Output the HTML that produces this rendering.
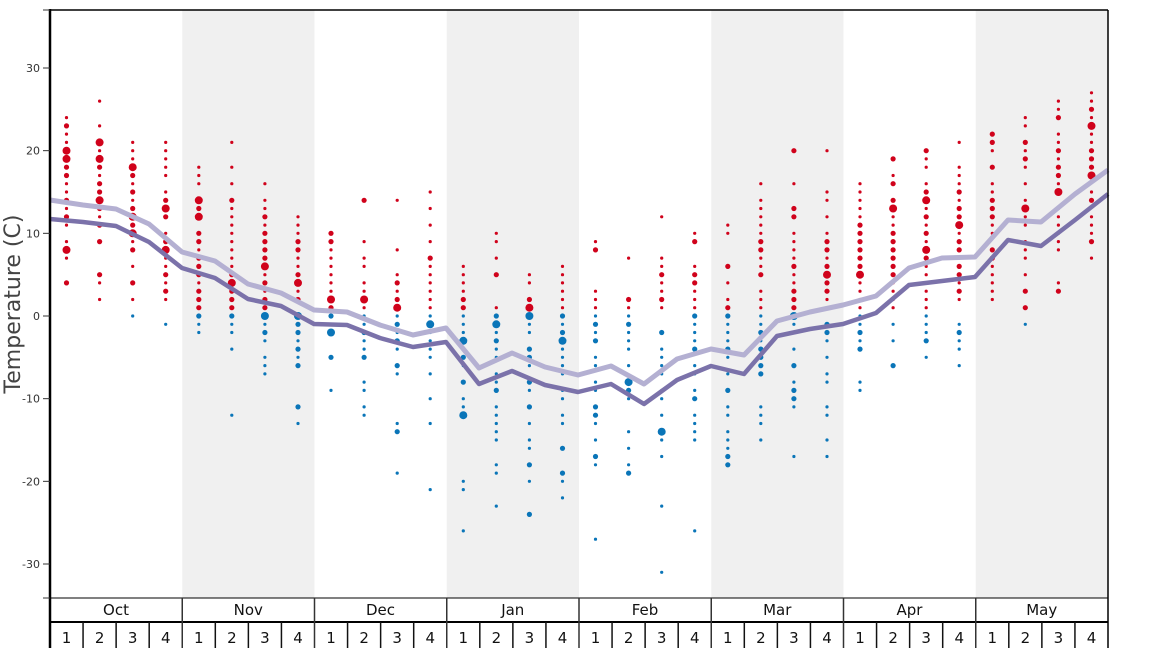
<!DOCTYPE html>
<html><head><meta charset="utf-8"><style>
html,body{margin:0;padding:0;background:#fff;width:1168px;height:648px;overflow:hidden}
text{font-family:"DejaVu Sans","Liberation Sans",sans-serif}
</style></head><body>
<svg id="s" width="1168" height="648" xmlns="http://www.w3.org/2000/svg">
<rect x="182.25" y="10" width="132.25" height="588" fill="#f0f0f0"/>
<rect x="446.75" y="10" width="132.25" height="588" fill="#f0f0f0"/>
<rect x="711.25" y="10" width="132.25" height="588" fill="#f0f0f0"/>
<rect x="975.75" y="10" width="132.25" height="588" fill="#f0f0f0"/>
<g id="dots"></g>
<polyline fill="none" stroke="#b4b0d2" stroke-width="5" stroke-linejoin="round" points="50,200 83,205 116,209 149,224 182,252 215,261 248,284 281,293 314,310 347,312 380,325 413,335 446,328 479,368 512,353 545,367 578,375 611,366 644,384 677,359 711,349 744,355 777,321 810,312 843,305 876,296 909,268 942,258 975,257 1008,220 1041,222 1075,194 1108,170"/>
<polyline fill="none" stroke="#7b72aa" stroke-width="4.5" stroke-linejoin="round" points="50,219 83,222 116,226 149,242 182,268 215,278 248,299 281,306 314,324 347,325 380,338 413,347 446,342 479,384 512,371 545,385 578,392 611,384 644,404 677,380 711,366 744,374 777,336 810,329 843,324 876,313 909,285 942,281 975,277 1008,240 1041,246 1075,220 1108,194"/>
<g stroke="#000" fill="none">
<line x1="50" y1="10" x2="1108" y2="10" stroke-width="1.5"/>
<line x1="1108" y1="10" x2="1108" y2="648" stroke-width="1.5"/>
<line x1="50" y1="9" x2="50" y2="648" stroke-width="2.5"/>
<line x1="50" y1="598" x2="1108" y2="598" stroke-width="1"/>
<line x1="50" y1="622" x2="1108" y2="622" stroke-width="2"/>
</g>
<g id="ax" font-size="11" fill="#333" text-anchor="end"></g>
<g id="mo" font-size="15" fill="#111" text-anchor="middle"></g>
<text transform="translate(20,304) rotate(-90)" font-size="22" fill="#444" text-anchor="middle">Temperature (C)</text>
</svg>
<script>
var NS="http://www.w3.org/2000/svg";
function el(p,t,a,txt){var e=document.createElementNS(NS,t);for(var k in a)e.setAttribute(k,a[k]);if(txt!==undefined)e.textContent=txt;p.appendChild(e);return e;}
var D=["24s,23m,22s,21s,20l,19l,18m,17m,16s,15s,14m,13s,12m,11s,9s,8l,7s,4m",
"26s,23s,21l,20s,19l,18m,17s,16m,15m,14l,13m,12s,11m,9m,5m,4s,2s",
"21s,20s,19s,18l,17m,16s,15m,14s,13m,12l,11m,10l,9s,8m,6s,4m,2s,0s",
"21s,20s,19s,18s,17s,15s,14m,13l,12m,10s,9m,8l,7s,6s,5m,4s,3m,2s,-1s",
"18s,17s,16s,14l,13m,12l,10m,9m,8s,7m,6m,5m,4s,3m,2m,1m,0m,-1s,-2s",
"21s,18s,16s,14m,13s,12s,11s,10s,9s,8s,7s,6s,5m,4l,3m,2m,1m,0m,-1s,-2s,-4s,-12s",
"16s,14s,13s,12m,11s,10m,9m,8m,7m,6l,5s,4m,3s,2m,1m,0l,-1s,-2m,-3s,-5s,-6s,-7s",
"12s,11s,10s,9m,8m,7s,6s,5m,4l,3s,2m,0l,-1m,-2m,-3s,-4m,-5s,-6m,-11m,-13s",
"10m,9m,8s,7s,6s,5s,4s,3s,2l,1m,0m,-2l,-5m,-9s",
"14m,9s,7s,6s,4s,3s,2l,1s,0s,-1s,-2m,-3s,-4s,-5m,-8s,-9s,-11s,-12s",
"14s,8s,5s,4m,3s,2m,1l,0s,-1m,-2s,-3m,-4s,-6m,-7s,-13s,-14m,-19s",
"15s,13s,11s,9s,7m,6s,5s,4s,3s,2s,1s,0s,-1l,-2s,-3s,-4s,-5s,-7s,-10s,-13s,-21s",
"6s,5s,4s,3s,2m,1m,0s,-1s,-2s,-3l,-4s,-5m,-6s,-8m,-10s,-11s,-12l,-20s,-21s,-26s",
"10s,9s,7s,5m,1s,0m,-1l,-2s,-3m,-4s,-5s,-7s,-8s,-9m,-11s,-12s,-13s,-14s,-15s,-18s,-19s,-23s",
"5s,4s,2m,1l,0l,-1s,-2s,-4m,-5m,-6s,-8m,-9s,-11m,-13s,-15s,-16s,-18m,-20s,-24m",
"6s,5s,4s,3s,2s,1s,0m,-1s,-2m,-3l,-4s,-5s,-6s,-7s,-9s,-10s,-12s,-13s,-16m,-19m,-20s,-22s",
"9s,8m,3s,2s,1s,0s,-1m,-2s,-3m,-5s,-6s,-8s,-9s,-11m,-12m,-13s,-15s,-17m,-18s,-27s",
"7s,2m,1s,0s,-1m,-2s,-3s,-4s,-6s,-8l,-9m,-10s,-14s,-16s,-18s,-19m",
"12s,7s,6s,5m,4s,3s,2m,1s,-2m,-4s,-5s,-6s,-7s,-9s,-10s,-12s,-14l,-15s,-17s,-23s,-31s",
"10s,9m,6s,5m,4m,3s,2s,1s,0m,-1s,-2s,-3s,-4m,-6s,-7s,-9s,-10m,-12s,-13s,-14s,-15s,-26s",
"11s,10s,6m,4s,2s,1m,0m,-1s,-2s,-3s,-4m,-5s,-7s,-9m,-11s,-12s,-14s,-15s,-16s,-17m,-18m",
"16s,14s,13s,12s,11s,10s,9m,8m,7s,6s,5m,3s,2s,1s,0s,-1s,-2m,-3s,-4m,-5m,-6m,-7m,-11s,-12s,-13s,-15s",
"20m,16s,13m,12m,10s,9s,8s,7s,6m,5s,4s,3m,2m,1m,0l,-1s,-2s,-4s,-6m,-8s,-9m,-10m,-11s,-17s",
"20s,15s,14s,12s,10s,9m,8m,7s,6m,5l,4m,3m,2s,1s,-1m,-2m,-3s,-5s,-7s,-8s,-11s,-12s,-15s,-17s",
"16s,15s,14s,13s,12s,11m,10m,9m,8m,7m,6m,5l,4s,3s,2s,1s,0s,-1s,-2m,-3s,-4m,-8s,-9s",
"19m,17s,16m,14m,13l,12s,11s,10m,9m,8m,7m,6m,5m,4s,3s,2s,1s,-1s,-3s,-6m",
"20m,19s,18s,16s,15m,14l,13s,12m,11s,10m,9s,8l,7m,6s,5s,4s,3s,2s,1s,0s,-1s,-2s,-3m,-5s",
"21s,18s,17s,16s,15m,14s,13m,12m,11l,10s,9m,8m,7s,6m,5m,4s,3m,2s,-1s,-2m,-3s,-4s,-6s",
"22m,21m,20s,18m,16s,15s,14m,13m,12m,11s,10s,8m,7m,6s,5s,4s,3s,2s",
"24s,23s,21m,20s,19m,18s,16s,14s,13l,12s,11s,9s,8s,7s,5s,3m,1m,-1s",
"26s,25s,24m,22s,21s,20m,19s,18m,17m,16s,15l,13s,12s,11s,10s,9s,8s,4s,3m",
"27s,26s,25m,24s,23l,22s,21s,20m,19m,18m,17l,15s,14m,12s,11s,10s,9m,7s"];
var W=1058/32,g=document.getElementById("dots"),R={s:1.6,m:2.6,l:4};
D.forEach(function(c,i){var x=50+W*(i+0.5);c.split(",").forEach(function(v){var t=parseInt(v),s=v.slice(-1);
el(g,"circle",{cx:x.toFixed(1),cy:(316-t*8.267).toFixed(1),r:R[s],fill:t>0?"#d0021b":"#0a75b8"});});});
var ax=document.getElementById("ax");
[30,20,10,0,-10,-20,-30].forEach(function(t){var y=316-t*8.267;el(ax,"line",{x1:43,x2:50,y1:y,y2:y,stroke:"#333"});el(ax,"text",{x:40,y:y+4},String(t));});
[10,598].forEach(function(y){el(ax,"line",{x1:43,x2:50,y1:y,y2:y,stroke:"#333"});});
var mo=document.getElementById("mo"),M=["Oct","Nov","Dec","Jan","Feb","Mar","Apr","May"];
M.forEach(function(m,i){var x0=50+132.25*i;el(mo,"text",{x:x0+66,y:615},m);if(i>0)el(mo,"line",{x1:x0,x2:x0,y1:598,y2:648,stroke:"#333","stroke-width":1.5});
for(var k=0;k<4;k++){var xx=x0+W*k;if(k>0)el(mo,"line",{x1:xx,x2:xx,y1:622,y2:648,stroke:"#111","stroke-width":1.5});el(mo,"text",{x:xx+W/2,y:643},String(k+1));}});
</script>
</body></html>
